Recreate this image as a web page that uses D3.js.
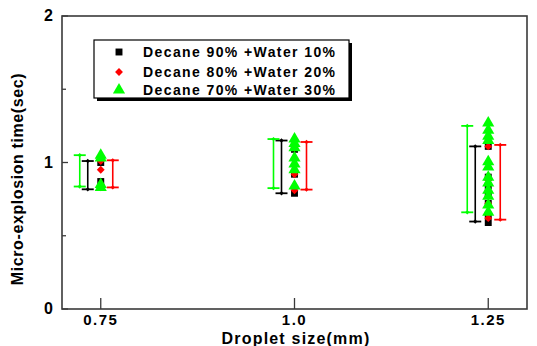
<!DOCTYPE html>
<html><head><meta charset="utf-8">
<script src="https://cdn.jsdelivr.net/npm/d3@7"></script>
<style>body{margin:0;background:#fff}svg{display:block}text{font-family:Arial,"Liberation Sans",sans-serif;font-weight:bold}</style>
</head><body>
<svg id="c" width="537" height="346"></svg>
<script>
const sizes = [0.75, 1.0, 1.25];
const seriesNames = ["Decane 90% +Water 10%", "Decane 80% +Water 20%", "Decane 70% +Water 30%"];
const seriesColors = ["#000000", "#ff0000", "#00ff00"];
// range bars [min, max] per size
const range90 = [[0.817, 1.01], [0.79, 1.15], [0.597, 1.11]];
const range80 = [[0.83, 1.015], [0.815, 1.14], [0.61, 1.12]];
const range70 = [[0.836, 1.05], [0.825, 1.16], [0.66, 1.25]];
// measured points per size
const pts90 = [[1.0, 0.87, 0.83], [1.09, 0.92, 0.79], [1.11, 0.9, 0.84, 0.78, 0.72, 0.64, 0.59]];
const pts80 = [[1.01, 0.95, 0.83], [1.1, 0.98, 0.92, 0.81], [1.11, 0.88, 0.8, 0.72, 0.65, 0.62]];
const pts70 = [[1.05, 1.03, 0.85, 0.83], [1.16, 1.13, 1.1, 1.03, 0.99, 0.95, 0.84], [1.27, 1.22, 1.18, 1.15, 1.005, 0.97, 0.9, 0.86, 0.81, 0.77, 0.71, 0.66]];
const xTicks = [0.75, 1.0, 1.25];
const xTickLabels = ["0.75", "1.0", "1.25"];
const yTicks = [0, 1, 2];
const yMinor = [0.5, 1.5];

const svg = d3.select("#c");
const L = 62, R = 527, T = 16, B = 309;
const x = d3.scaleLinear().domain([0.7, 1.3]).range([L, R]);
const y = d3.scaleLinear().domain([0, 2]).range([B, T]);

// custom rhombus symbol
const rhombus = { draw(ctx, s) { const r = Math.sqrt(s) / 2 * 1.25; ctx.moveTo(0, -r); ctx.lineTo(r, 0); ctx.lineTo(0, r); ctx.lineTo(-r, 0); ctx.closePath(); } };

// frame
svg.append("rect").attr("x", L).attr("y", T).attr("width", R - L).attr("height", B - T)
  .attr("fill", "none").attr("stroke", "#3a3a3a").attr("stroke-width", 1.6);

// x ticks (inward)
const gx = svg.append("g");
xTicks.forEach((t, i) => {
  gx.append("line").attr("x1", x(t)).attr("x2", x(t)).attr("y1", B).attr("y2", B - 11)
    .attr("stroke", "#3a3a3a").attr("stroke-width", 1.3);
  gx.append("text").attr("x", x(t)).attr("y", 325).attr("text-anchor", "middle")
    .attr("font-size", 15).attr("letter-spacing", 1.5).text(xTickLabels[i]);
});
// y ticks
yTicks.forEach(t => {
  svg.append("line").attr("x1", L).attr("x2", L + 6).attr("y1", y(t)).attr("y2", y(t))
    .attr("stroke", "#3a3a3a").attr("stroke-width", 1.3);
  svg.append("text").attr("x", 53).attr("y", y(t) + 5).attr("text-anchor", "end")
    .attr("font-size", 16).text(d3.format("d")(t));
});
yMinor.forEach(t => {
  svg.append("line").attr("x1", L).attr("x2", L + 4).attr("y1", y(t)).attr("y2", y(t))
    .attr("stroke", "#3a3a3a").attr("stroke-width", 1.3);
});

// axis titles
svg.append("text").attr("x", 296).attr("y", 344).attr("text-anchor", "middle")
  .attr("font-size", 16).attr("letter-spacing", 1.2).text("Droplet size(mm)");
svg.append("text").attr("transform", "translate(23,179) rotate(-90)").attr("text-anchor", "middle")
  .attr("font-size", 16).attr("letter-spacing", 0.6).text("Micro-explosion time(sec)");

// range bars
const ranges = [range90, range80, range70];
const offsets = [-13, 12, -21];
ranges.forEach((rs, si) => {
  const col = seriesColors[si];
  const g = svg.append("g");
  rs.forEach((r, ci) => {
    const cx = x(sizes[ci]) + offsets[si];
    g.append("line").attr("x1", cx).attr("x2", cx).attr("y1", y(r[0])).attr("y2", y(r[1]))
      .attr("stroke", col).attr("stroke-width", 1.6);
    r.forEach(v => {
      g.append("line").attr("x1", cx - 6).attr("x2", cx + 6).attr("y1", y(v)).attr("y2", y(v))
        .attr("stroke", col).attr("stroke-width", 1.8);
      g.append("path").attr("d", d3.symbol(rhombus, 12)())
        .attr("transform", `translate(${cx},${y(v)})`).attr("fill", col);
    });
  });
});

// points
const pointSets = [pts90, pts80, pts70];
const symbols = [d3.symbolSquare, rhombus, d3.symbolTriangle];
const symSizes = [48, 40, 64];
pointSets.forEach((ps, si) => {
  const g = svg.append("g");
  ps.forEach((vals, ci) => {
    vals.forEach(v => {
      g.append("path").attr("d", d3.symbol(symbols[si], symSizes[si])())
        .attr("transform", `translate(${x(sizes[ci])},${y(v)})`).attr("fill", seriesColors[si]);
    });
  });
});

// legend
const lg = svg.append("g");
lg.append("rect").attr("x", 97).attr("y", 43).attr("width", 255).attr("height", 58).attr("fill", "#000");
lg.append("rect").attr("x", 94).attr("y", 40).attr("width", 255).attr("height", 58)
  .attr("fill", "#fff").attr("stroke", "#000").attr("stroke-width", 1.2);
const rowsY = [52, 72, 90];
seriesNames.forEach((n, i) => {
  lg.append("path").attr("d", d3.symbol(symbols[i], symSizes[i])())
    .attr("transform", `translate(119,${rowsY[i]})`).attr("fill", seriesColors[i]);
  lg.append("text").attr("x", 143).attr("y", rowsY[i] + 5).attr("font-size", 14)
    .attr("letter-spacing", 1.4).text(n);
});
</script>
</body></html>
